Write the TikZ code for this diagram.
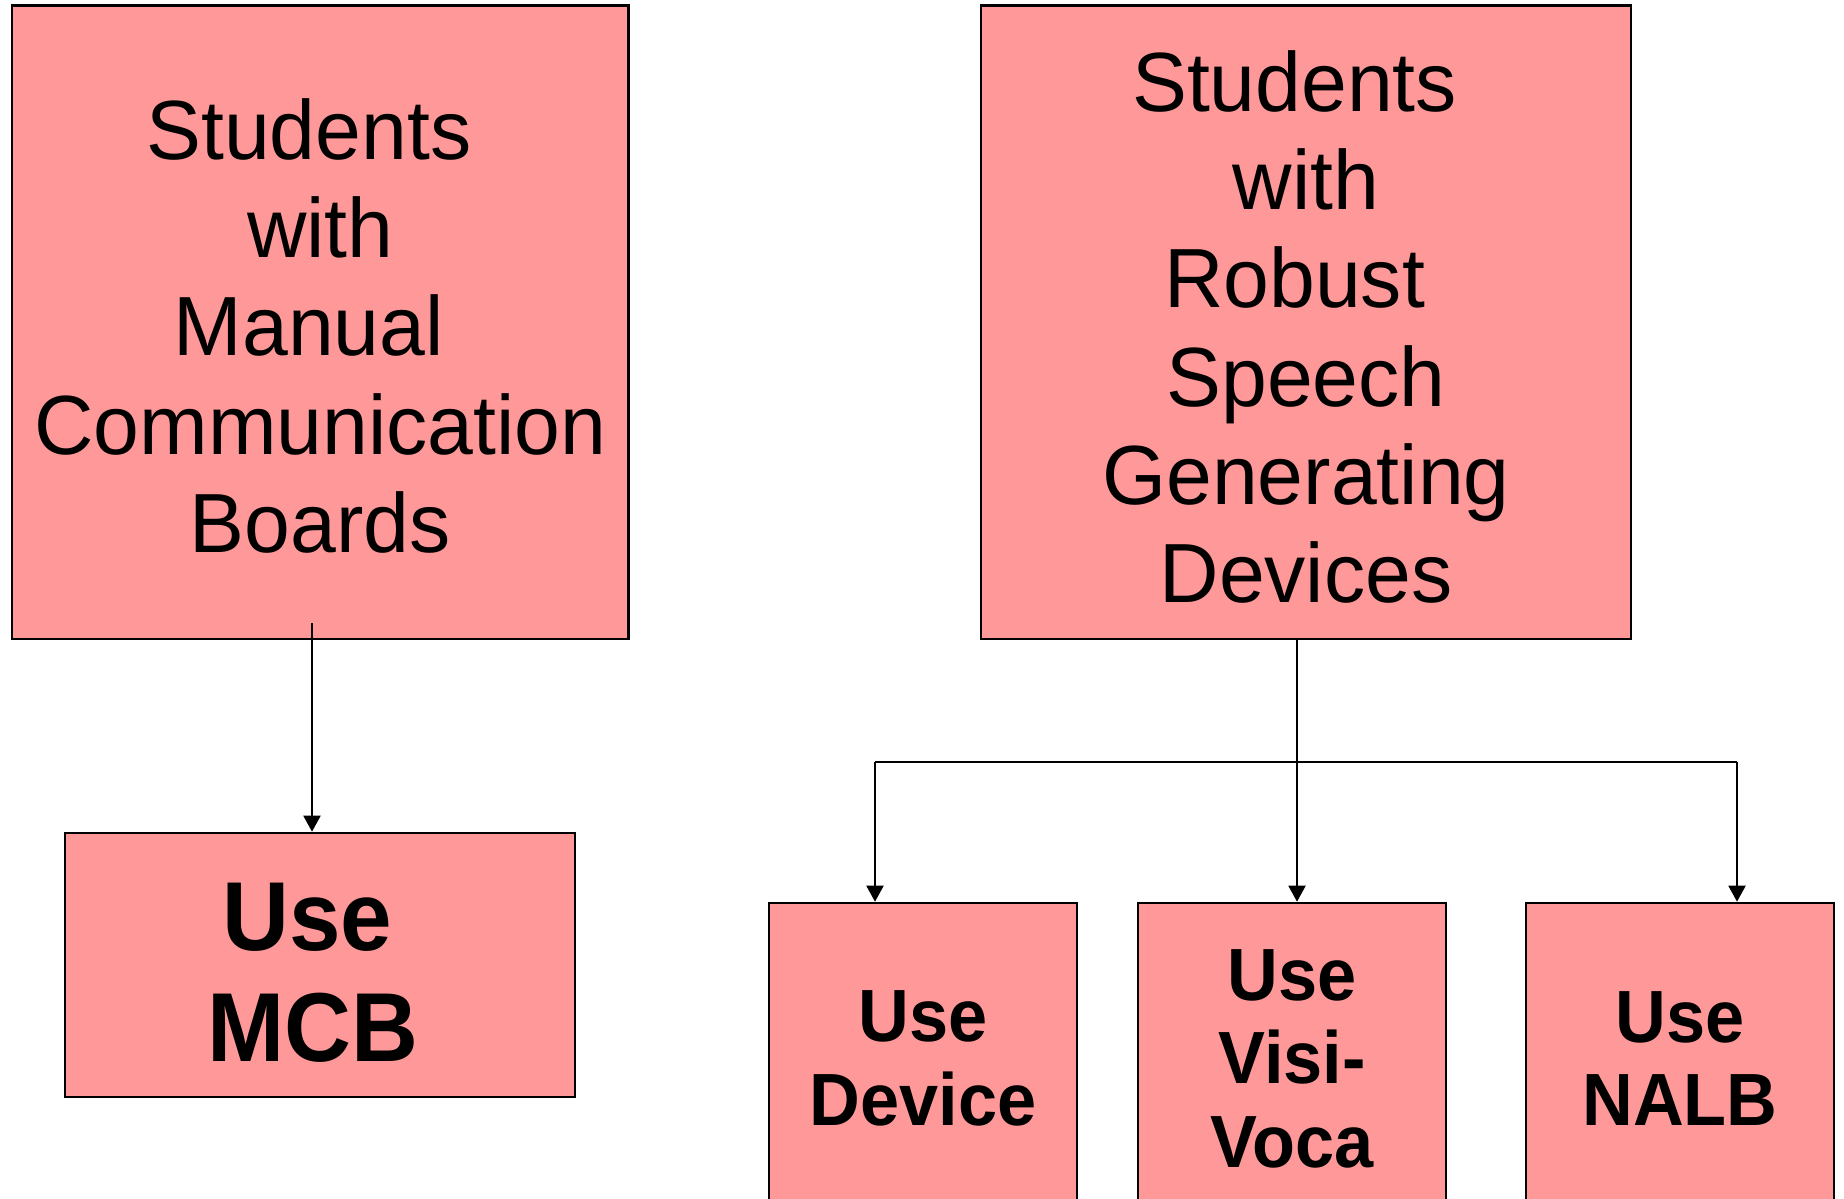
\documentclass[tikz,border=0pt]{standalone}
\usepackage{fontspec}
\usetikzlibrary{arrows.meta}
\setmainfont{Liberation Sans}
\newfontfamily\headfont[FakeStretch=0.98]{Liberation Sans}
\newfontfamily\mcbfont[FakeStretch=0.945]{Liberation Sans Bold}
\newfontfamily\optfont[FakeStretch=0.95]{Liberation Sans Bold}
\definecolor{boxpink}{RGB}{255,153,153}
\tikzset{
  panel/.style={draw=black, fill=boxpink, line width=2.6pt, rectangle,
    inner sep=0pt, align=center},
  groupbox/.style={panel, font={\headfont\fontsize{84}{98.2}\selectfont}},
  mcbbox/.style={panel, font={\mcbfont\fontsize{98}{111}\selectfont}},
  optbox/.style={panel, minimum width=308pt, minimum height=300pt,
    font={\optfont\fontsize{74}{83.5}\selectfont}},
  link/.style={draw=black, line width=2pt},
  arr/.style={link, -{Triangle[length=16pt, width=17pt]}}
}
% invisible strut that sets the height of a first line
\newcommand\firstline[1]{\rule{0pt}{#1}}
\begin{document}
\begin{tikzpicture}[x=1pt, y=-1pt]
  \useasboundingbox (0,0) rectangle (1844,1199);
  \clip (0,0) rectangle (1844,1199);
  \fill[white] (0,0) rectangle (1844,1199);

  % the two student groups
  \node[groupbox, minimum width=616.5pt, minimum height=633.5pt] (mcbgroup) at (320.25,322.25)
    {\firstline{68pt}Students\ \null\\with\\Manual\ \null\\Communication\\Boards};
  \node[groupbox, minimum width=650pt, minimum height=633.5pt] (sgdgroup) at (1306,322.25)
    {\firstline{70.5pt}Students\ \null\\with\\Robust\ \null\\Speech\\Generating\\Devices};

  % what each group uses
  \node[mcbbox, minimum width=510pt, minimum height=264pt] (usemcb) at (320,965)
    {\firstline{82pt}Use\ \null\\MCB\kern14pt};
  \node[optbox] (usedevice) at (923,1053) {\firstline{62pt}Use\\Device};
  \node[optbox] (usevisi) at (1292,1053) {\firstline{62pt}Use\\Visi-\\Voca};
  \node[optbox] (usenalb) at (1680,1053) {\firstline{62pt}Use\\NALB};

  % connector points
  \coordinate (mcbstart) at (312,623);
  \coordinate (trunk) at (1297,762.3);
  \coordinate (leftend) at (875,762.3);
  \coordinate (rightend) at (1737,762.3);

  % left branch
  \draw[arr] (mcbstart) -- (mcbstart |- usemcb.north);

  % right tree
  \draw[link] (trunk |- sgdgroup.south) -- (trunk);
  \draw[link] (leftend) -- (rightend);
  \draw[arr] (trunk) -- (trunk |- usevisi.north);
  \draw[arr] (leftend) -- (leftend |- usedevice.north);
  \draw[arr] (rightend) -- (rightend |- usenalb.north);
\end{tikzpicture}
\end{document}
